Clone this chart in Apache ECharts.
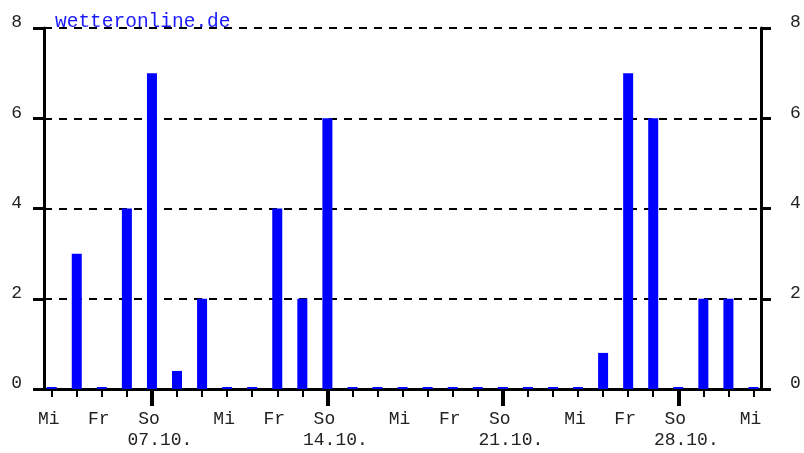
<!DOCTYPE html>
<html>
<head>
<meta charset="utf-8">
<script src="https://cdn.jsdelivr.net/npm/echarts@6/dist/echarts.min.js"></script>
<style>
  html, body { margin: 0; padding: 0; background: #fff; }
  #main { width: 804px; height: 453px; }
</style>
</head>
<body>
<div id="main"></div>
<script>
// Tage ab Mi 03.10. bis Mi 31.10.
var dayNames = ['Mi', 'Do', 'Fr', 'Sa', 'So', 'Mo', 'Di',
  'Mi', 'Do', 'Fr', 'Sa', 'So', 'Mo', 'Di',
  'Mi', 'Do', 'Fr', 'Sa', 'So', 'Mo', 'Di',
  'Mi', 'Do', 'Fr', 'Sa', 'So', 'Mo', 'Di', 'Mi']
// Niederschlag pro Tag
var rain = [0, 3, 0, 4, 7, 0.4, 2,
  0, 0, 4, 2, 6, 0, 0,
  0, 0, 0, 0, 0, 0, 0,
  0, 0.8, 7, 6, 0, 2, 2, 0]
var labelDays = [0, 2, 4, 7, 9, 11, 14, 16, 18, 21, 23, 25, 28]
var sundays = [4, 11, 18, 25]
var sundayDates = ['07.10.', '14.10.', '21.10.', '28.10.']

var font = 'Liberation Mono'
var myChart = echarts.init(document.getElementById('main'))
var allDays = dayNames.map(function(d, i) { return i })

var option = {
  animation: false,
  title: {
    text: 'wetteronline.de',
    left: 50,
    top: 7,
    textStyle: { color: '#1a1aff', fontFamily: font, fontSize: 19.5, fontWeight: 'normal' }
  },
  grid: { left: 44, right: 43, top: 28, bottom: 64 },
  xAxis: [
    {
      type: 'value',
      min: -0.307,
      max: 28.3,
      splitLine: { show: false },
      axisLine: { show: true, onZero: false, lineStyle: { color: '#000', width: 3 } },
      axisTick: { show: true, customValues: allDays, length: 8, lineStyle: { color: '#000', width: 2 } },
      axisLabel: {
        customValues: labelDays,
        margin: 21,
        color: '#222',
        fontFamily: font,
        fontSize: 18,
        padding: [0, 6, 0, 0],
        formatter: function(v) { return dayNames[v] }
      }
    },
    {
      type: 'value',
      position: 'bottom',
      min: -0.307,
      max: 28.3,
      splitLine: { show: false },
      axisLine: { show: false },
      axisTick: { show: true, customValues: sundays, length: 17, lineStyle: { color: '#000', width: 4 } },
      axisLabel: {
        customValues: sundays,
        margin: 42,
        color: '#222',
        fontFamily: font,
        fontSize: 18,
        padding: [0, 0, 0, 16],
        formatter: function(v) { return sundayDates[sundays.indexOf(v)] }
      }
    }
  ],
  yAxis: [
    {
      type: 'value',
      position: 'left',
      min: 0,
      max: 8,
      interval: 2,
      axisLine: { show: true, onZero: false, lineStyle: { color: '#000', width: 3 } },
      axisTick: { show: true, length: 11, lineStyle: { color: '#000', width: 3 } },
      axisLabel: {
        margin: 22,
        color: '#222',
        fontFamily: font,
        fontSize: 18,
        lineHeight: 11,
        verticalAlign: 'bottom'
      },
      splitLine: { show: true, lineStyle: { color: '#000', width: 2, type: [8, 7] } }
    },
    {
      type: 'value',
      position: 'right',
      min: 0,
      max: 8,
      interval: 2,
      axisLine: { show: true, onZero: false, lineStyle: { color: '#000', width: 3 } },
      axisTick: { show: true, length: 10, lineStyle: { color: '#000', width: 3 } },
      axisLabel: {
        margin: 29,
        color: '#222',
        fontFamily: font,
        fontSize: 18,
        lineHeight: 11,
        verticalAlign: 'bottom'
      },
      splitLine: { show: false }
    }
  ],
  series: [
    {
      type: 'bar',
      xAxisIndex: 0,
      yAxisIndex: 0,
      barWidth: 10,
      barMinHeight: 2,
      itemStyle: { color: '#0000ff' },
      data: rain.map(function(v, i) { return [i, v] })
    }
  ]
}
myChart.setOption(option)
</script>
</body>
</html>
